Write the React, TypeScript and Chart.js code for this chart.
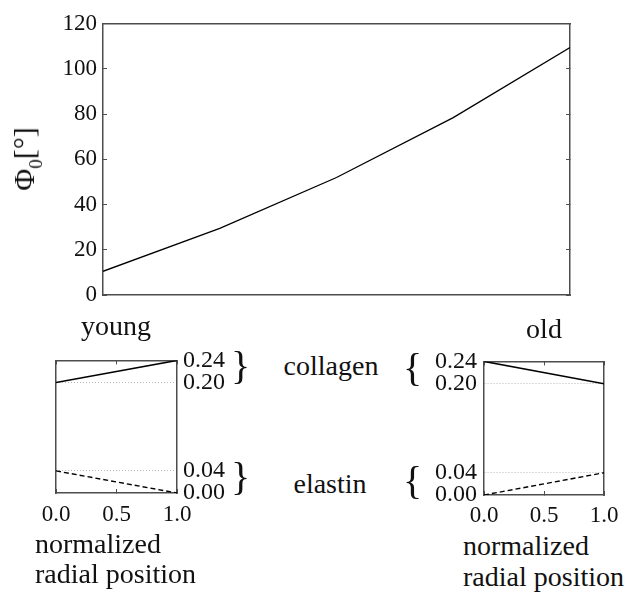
import React, { useEffect, useRef } from 'react';
import { Chart, registerables } from 'chart.js';

Chart.register(...registerables);

const FONT = '"Liberation Serif", Tinos, serif';
const FRAME = '#4d4d4d';
const INK = '#111111';

// ---- main chart data (age from young to old) ----
const ageSteps = [0, 1, 2, 3, 4];
const phi0Deg = [10.5, 29.5, 52, 78.5, 109.5];
const phiTicks = [0, 20, 40, 60, 80, 100, 120];

// ---- inset data (mass fractions vs normalized radial position) ----
const radialPos = [0, 1];
const radialTicks = [0, 0.5, 1];
const youngCollagen = [0.2, 0.24];
const youngElastin = [0.04, 0.0];
const oldCollagen = [0.24, 0.2];
const oldElastin = [0.0, 0.04];
const fractionTicks = [0, 0.04, 0.2, 0.24];
const fractionGrid = [0.04, 0.2];

function setTicks(values: number[]) {
  return (scale: any) => {
    scale.ticks = values.map((v) => ({ value: v }));
  };
}

function makeMain(canvas: HTMLCanvasElement) {
  return new Chart(canvas, {
    type: 'line',
    data: {
      datasets: [
        {
          data: ageSteps.map((x, i) => ({ x, y: phi0Deg[i] })),
          borderColor: '#000',
          borderWidth: 1.3,
          pointRadius: 0,
          tension: 0,
          fill: false,
        },
      ],
    },
    options: {
      animation: false,
      responsive: false,
      maintainAspectRatio: false,
      layout: { padding: 0 },
      plugins: { legend: { display: false }, tooltip: { enabled: false } },
      scales: {
        x: {
          type: 'linear',
          position: 'bottom',
          min: 0,
          max: 4,
          ticks: { display: false },
          grid: { display: false },
          border: { display: true, color: FRAME, width: 1.5 },
          afterFit: (s: any) => {
            s.height = 25;
          },
        },
        xTop: {
          type: 'linear',
          position: 'top',
          min: 0,
          max: 4,
          ticks: { display: false },
          grid: { display: false },
          border: { display: true, color: FRAME, width: 1.5 },
          afterFit: (s: any) => {
            s.height = 20;
          },
        },
        y: {
          type: 'linear',
          position: 'left',
          min: 0,
          max: 120,
          afterBuildTicks: setTicks(phiTicks),
          ticks: {
            font: { family: FONT, size: 23 },
            color: INK,
            padding: 10,
            autoSkip: false,
          },
          grid: { drawOnChartArea: false, tickLength: -4, color: FRAME, tickWidth: 1 },
          border: { display: true, color: FRAME, width: 1.5 },
          afterFit: (s: any) => {
            s.width = 103;
          },
        },
        yRight: {
          type: 'linear',
          position: 'right',
          min: 0,
          max: 120,
          afterBuildTicks: setTicks(phiTicks),
          ticks: { display: false },
          grid: { drawOnChartArea: false, tickLength: -4, color: FRAME, tickWidth: 1 },
          border: { display: true, color: FRAME, width: 1.5 },
          afterFit: (s: any) => {
            s.width = 65;
          },
        },
      },
    },
  } as any);
}

type Dims = {
  leftW: number;
  rightW: number;
  topH: number;
  bottomH: number;
  labelPad: number;
  xPad: number;
};

function makeSmall(
  canvas: HTMLCanvasElement,
  collagen: number[],
  elastin: number[],
  labelsOnRight: boolean,
  d: Dims
) {
  const plainFit = (s: any) => {
    s.width = labelsOnRight ? d.leftW : d.rightW;
  };
  const labFit = (s: any) => {
    s.width = labelsOnRight ? d.rightW : d.leftW;
  };
  return new Chart(canvas, {
    type: 'line',
    data: {
      datasets: [
        {
          data: radialPos.map((x, i) => ({ x, y: collagen[i] })),
          borderColor: '#000',
          borderWidth: 1.5,
          pointRadius: 0,
          fill: false,
        },
        {
          data: radialPos.map((x, i) => ({ x, y: elastin[i] })),
          borderColor: '#000',
          borderWidth: 1.4,
          borderDash: [5, 3],
          pointRadius: 0,
          fill: false,
        },
      ],
    },
    options: {
      animation: false,
      responsive: false,
      maintainAspectRatio: false,
      layout: { padding: 0 },
      plugins: { legend: { display: false }, tooltip: { enabled: false } },
      scales: {
        x: {
          type: 'linear',
          position: 'bottom',
          min: 0,
          max: 1,
          afterBuildTicks: setTicks(radialTicks),
          ticks: {
            font: { family: FONT, size: 23 },
            color: INK,
            padding: d.xPad,
            maxRotation: 0,
            autoSkip: false,
            callback: (v: any) => Number(v).toFixed(1),
          },
          grid: { drawOnChartArea: false, tickLength: -4, color: FRAME, tickWidth: 1 },
          border: { display: true, color: FRAME, width: 1.5 },
          afterFit: (s: any) => {
            s.height = d.bottomH;
          },
        },
        xTop: {
          type: 'linear',
          position: 'top',
          min: 0,
          max: 1,
          afterBuildTicks: setTicks(radialTicks),
          ticks: { display: false },
          grid: { drawOnChartArea: false, tickLength: -4, color: FRAME, tickWidth: 1 },
          border: { display: true, color: FRAME, width: 1.5 },
          afterFit: (s: any) => {
            s.height = d.topH;
          },
        },
        y: {
          type: 'linear',
          position: labelsOnRight ? 'right' : 'left',
          min: 0,
          max: 0.24,
          afterBuildTicks: setTicks(fractionTicks),
          ticks: {
            font: { family: FONT, size: 24 },
            color: INK,
            padding: d.labelPad,
            autoSkip: false,
            callback: (v: any) => Number(v).toFixed(2),
          },
          grid: {
            drawOnChartArea: true,
            drawTicks: false,
            lineWidth: 1,
            color: (ctx: any) =>
              ctx.tick && fractionGrid.some((g) => Math.abs(g - ctx.tick.value) < 1e-9)
                ? '#b8b8b8'
                : 'rgba(0,0,0,0)',
          },
          border: { display: true, color: FRAME, width: 1.5, dash: [1, 2] },
          afterFit: labFit,
        },
        yPlain: {
          type: 'linear',
          position: labelsOnRight ? 'left' : 'right',
          min: 0,
          max: 0.24,
          ticks: { display: false },
          grid: { display: false },
          border: { display: true, color: FRAME, width: 1.5 },
          afterFit: plainFit,
        },
      },
    },
  } as any);
}

function Txt(props: {
  x: number;
  base: number;
  size: number;
  center?: boolean;
  children: React.ReactNode;
  style?: React.CSSProperties;
}) {
  const { x, base, size, center, children, style } = props;
  const s: React.CSSProperties = {
    position: 'absolute',
    left: x,
    top: base - size * 0.8375,
    fontFamily: FONT,
    fontSize: size,
    lineHeight: `${size}px`,
    whiteSpace: 'nowrap',
    color: INK,
    transform: center ? 'translateX(-50%)' : undefined,
    ...style,
  };
  return <div style={s}>{children}</div>;
}

export default function App() {
  const mainRef = useRef<HTMLCanvasElement>(null);
  const leftRef = useRef<HTMLCanvasElement>(null);
  const rightRef = useRef<HTMLCanvasElement>(null);

  useEffect(() => {
    const charts: Chart[] = [];
    if (mainRef.current) charts.push(makeMain(mainRef.current));
    if (leftRef.current)
      charts.push(
        makeSmall(leftRef.current, youngCollagen, youngElastin, true, {
          leftW: 36,
          rightW: 83,
          topH: 16,
          bottomH: 37,
          labelPad: 6,
          xPad: 12,
        })
      );
    if (rightRef.current)
      charts.push(
        makeSmall(rightRef.current, oldCollagen, oldElastin, false, {
          leftW: 104,
          rightW: 31,
          topH: 18,
          bottomH: 35,
          labelPad: 7,
          xPad: 11,
        })
      );
    return () => charts.forEach((c) => c.destroy());
  }, []);

  return (
    <div
      style={{
        position: 'absolute',
        left: 0,
        top: 0,
        width: 635,
        height: 602,
        background: '#fff',
        overflow: 'hidden',
      }}
    >
      <canvas ref={mainRef} width={635} height={320} style={{ position: 'absolute', left: 0, top: 0 }} />
      <canvas ref={leftRef} width={240} height={190} style={{ position: 'absolute', left: 20, top: 340 }} />
      <canvas ref={rightRef} width={255} height={190} style={{ position: 'absolute', left: 380, top: 340 }} />

      {/* y-axis title of the main chart */}
      <div
        style={{
          position: 'absolute',
          left: 26,
          top: 159,
          transform: 'translate(-50%, -50%) rotate(-90deg)',
          fontFamily: FONT,
          fontSize: 30,
          lineHeight: '30px',
          whiteSpace: 'nowrap',
          color: INK,
        }}
      >
        Φ<span style={{ fontSize: 19, position: 'relative', top: 8 }}>0</span>[°]
      </div>

      <Txt x={116} base={335} size={28} center>
        young
      </Txt>
      <Txt x={544} base={338} size={28} center>
        old
      </Txt>
      <Txt x={331} base={375} size={28} center>
        collagen
      </Txt>
      <Txt x={330} base={493} size={28} center>
        elastin
      </Txt>

      <Txt x={231} base={379} size={40}>
        {'}'}
      </Txt>
      <Txt x={231} base={490} size={40}>
        {'}'}
      </Txt>
      <Txt x={403} base={381} size={40}>
        {'{'}
      </Txt>
      <Txt x={403} base={494} size={40}>
        {'{'}
      </Txt>

      <Txt x={35} base={553} size={28}>
        normalized
      </Txt>
      <Txt x={35} base={583} size={28}>
        radial position
      </Txt>
      <Txt x={463} base={555} size={28}>
        normalized
      </Txt>
      <Txt x={463} base={586} size={28}>
        radial position
      </Txt>
    </div>
  );
}
